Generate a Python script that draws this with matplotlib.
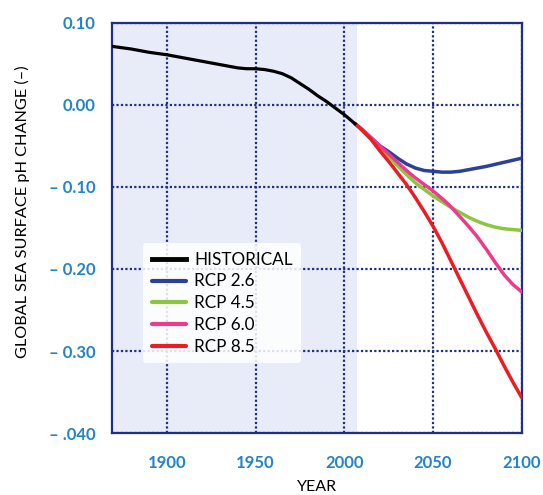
import numpy as np
import matplotlib
matplotlib.use("Agg")
import matplotlib.pyplot as plt

plt.rcParams['font.family'] = ['Lato', 'DejaVu Sans']

# historical record
hist_years = [1870, 1880, 1890, 1900, 1910, 1920, 1930, 1940, 1945, 1950, 1955, 1960, 1965, 1970,
              1975, 1980, 1985, 1990, 1995, 2000, 2006]
hist_ph = [0.071, 0.068, 0.064, 0.061, 0.057, 0.053, 0.049, 0.045, 0.044, 0.044, 0.043, 0.041, 0.038, 0.033,
           0.026, 0.019, 0.011, 0.004, -0.004, -0.012, -0.023]

# projections
proj_years = [2006, 2010, 2015, 2020, 2025, 2030, 2035, 2040, 2045, 2050, 2055, 2060, 2065, 2070,
              2075, 2080, 2085, 2090, 2095, 2100]
rcp26 = [-0.023, -0.030, -0.040, -0.050, -0.057, -0.065, -0.072, -0.077, -0.080, -0.081, -0.082, -0.082,
         -0.081, -0.079, -0.077, -0.075, -0.0725, -0.070, -0.0675, -0.065]
rcp45 = [-0.023, -0.030, -0.041, -0.052, -0.063, -0.074, -0.085, -0.095, -0.103, -0.111, -0.118, -0.125,
         -0.131, -0.137, -0.142, -0.146, -0.149, -0.151, -0.152, -0.153]
rcp60 = [-0.023, -0.030, -0.040, -0.050, -0.060, -0.070, -0.080, -0.089, -0.097, -0.105, -0.114, -0.124,
         -0.136, -0.148, -0.161, -0.176, -0.192, -0.207, -0.219, -0.228]
rcp85 = [-0.023, -0.031, -0.042, -0.056, -0.069, -0.083, -0.097, -0.113, -0.130, -0.148, -0.168, -0.190,
         -0.212, -0.234, -0.256, -0.277, -0.297, -0.318, -0.338, -0.357]

xticks = [1900, 1950, 2000, 2050, 2100]
yticks = [0.10, 0.00, -0.10, -0.20, -0.30, -0.40]
ytick_labels = ['0.10', '0.00', '\u2013 0.10', '\u2013 0.20', '\u2013 0.30', '\u2013 .040']

navy = '#1f2f88'
blue_txt = '#2384c6'
dot = (0, (1, 1))

fig = plt.figure(figsize=(5.43, 4.95), dpi=100)
ax = fig.add_axes([0.206, 0.125, 0.755, 0.829])

ax.axvspan(1869, 2007, color='#e8ecf8', lw=0, zorder=0)

ax.set_xlim(1869, 2100)
ax.set_ylim(-0.40, 0.10)

for x in xticks:
    ax.axvline(x, color=navy, lw=1.6, ls=dot, zorder=1)
for y in yticks:
    ax.axhline(y, color=navy, lw=1.6, ls=dot, zorder=1)
for s in ax.spines.values():
    s.set_color(navy)
    s.set_linewidth(1.6)
    s.set_linestyle(dot)

ax.plot(proj_years, rcp26, color='#2b4195', lw=2.5, label='RCP 2.6', zorder=3, solid_capstyle='round')
ax.plot(proj_years, rcp45, color='#8cc63f', lw=2.5, label='RCP 4.5', zorder=3, solid_capstyle='round')
ax.plot(proj_years, rcp60, color='#ee3a8c', lw=2.5, label='RCP 6.0', zorder=3, solid_capstyle='round')
ax.plot(proj_years, rcp85, color='#ec1c24', lw=2.5, label='RCP 8.5', zorder=3, solid_capstyle='round')
ax.plot(hist_years, hist_ph, color='black', lw=2.3, label='HISTORICAL', zorder=4)

ax.set_xticks(xticks)
ax.set_yticks(yticks)
ax.set_yticklabels(ytick_labels)
ax.tick_params(length=0, labelsize=12, labelcolor=blue_txt)
ax.tick_params(axis='y', pad=12)
ax.tick_params(axis='x', pad=16)
for t in ax.get_xticklabels() + ax.get_yticklabels():
    t.set_fontweight('bold')

ax.set_xlabel('YEAR', fontsize=11.5)
ax.xaxis.set_label_coords(0.5, -0.115)
ax.set_ylabel('GLOBAL SEA SURFACE pH CHANGE (\u2013)', fontsize=11.7)
ax.yaxis.set_label_coords(-0.2, 0.539)

handles, labels = ax.get_legend_handles_labels()
order = [4, 0, 1, 2, 3]
leg = ax.legend([handles[i] for i in order], [labels[i] for i in order],
                loc='upper left', bbox_to_anchor=(0.076, 0.463), borderaxespad=0,
                fontsize=12.3, handlelength=2.0, handletextpad=0.5, labelspacing=0.34,
                borderpad=0.5, frameon=True, fancybox=True, framealpha=0.85, edgecolor='none')
leg.get_lines()[0].set_linewidth(3.5)
for ln in leg.get_lines()[1:]:
    ln.set_linewidth(3)

fig.savefig('out.png', dpi=100)
